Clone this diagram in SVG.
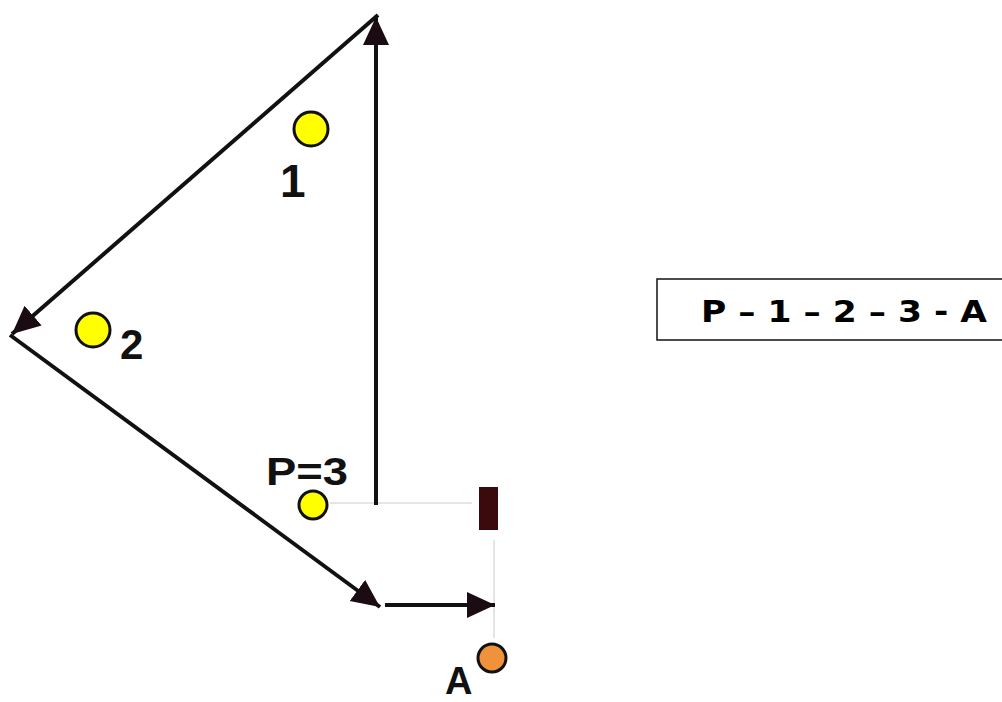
<svg xmlns="http://www.w3.org/2000/svg" width="1002" height="702" viewBox="0 0 1002 702">
<style>
.edge{stroke:#111;stroke-width:4;fill:none}
.guide{stroke:#ddd;stroke-width:1.5;fill:none}
.pt{stroke:#111;stroke-width:3}
.yel{fill:#ffff00}
.org{fill:#f0923c}
.lbl{font-family:"Liberation Sans",Arial,sans-serif;font-weight:bold;fill:#111}
.seq{font-family:"DejaVu Sans",Verdana,sans-serif;font-weight:bold;font-size:31px;fill:#000}
</style>
<defs>
<marker id="ah" markerUnits="userSpaceOnUse" markerWidth="30" markerHeight="28" refX="28" refY="13" orient="auto">
<path d="M0,0 L28,13 L0,26 z" fill="#1a0c12"/>
</marker>
</defs>
<rect width="1002" height="702" fill="#fff"/>
<g id="connectors">
<line class="guide" x1="330" y1="503" x2="472" y2="503"/>
<line class="guide" x1="494" y1="540" x2="494" y2="638"/>
<line class="edge" x1="376" y1="505" x2="376" y2="17" marker-end="url(#ah)"/>
<line class="edge" x1="378" y1="15" x2="12" y2="334" marker-end="url(#ah)"/>
<line class="edge" x1="10" y1="335" x2="380" y2="607" marker-end="url(#ah)"/>
<line class="edge" x1="385" y1="605" x2="495" y2="605" marker-end="url(#ah)"/>
</g>
<g id="node-1">
<circle class="pt yel" cx="311" cy="129" r="17"/>
<text class="lbl" x="280" y="197" font-size="46">1</text>
</g>
<g id="node-2">
<circle class="pt yel" cx="93" cy="330" r="17"/>
<text class="lbl" x="120" y="359" font-size="42">2</text>
</g>
<g id="node-p3">
<circle class="pt yel" cx="313" cy="505" r="14"/>
<text class="lbl" x="266" y="485" font-size="38" textLength="82" lengthAdjust="spacingAndGlyphs">P=3</text>
</g>
<g id="node-marker">
<rect x="479" y="487" width="19" height="43" fill="#3a0a0c"/>
</g>
<g id="node-a">
<circle class="pt org" cx="492" cy="658" r="14"/>
<text class="lbl" x="445" y="694" font-size="38">A</text>
</g>
<g id="node-sequence">
<rect x="657" y="279" width="360" height="61" fill="#fff" stroke="#111" stroke-width="1.5"/>
<text class="seq" x="701" y="322" textLength="286" lengthAdjust="spacingAndGlyphs">P – 1 – 2 – 3 - A</text>
</g>
</svg>
